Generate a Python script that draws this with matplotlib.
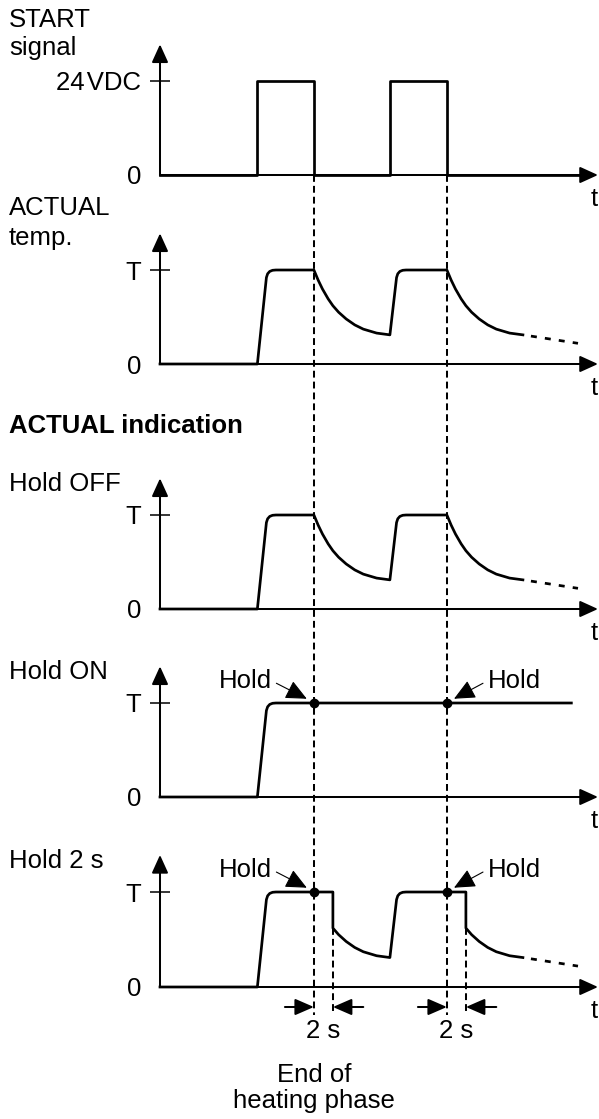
import matplotlib.pyplot as plt
from matplotlib.lines import Line2D
from matplotlib.transforms import blended_transform_factory

plt.rcParams['font.family'] = ['Liberation Sans', 'DejaVu Sans']
plt.rcParams['font.size'] = 18.5

## Heating cycles (s): START signal on / end of heating phase
heat_on = [10.25, 24.2]
heat_off = [16.2, 30.2]
hold_time = 2.0          # "Hold 2 s" mode
hold_on_end = 43.3       # where the held line stops in "Hold ON"

## Rising flank: time the knee is reached, then the rounded knee up to T
knee_t = [11.2, 24.9]
knee_dt = [0.0, 0.13, 0.35, 0.65, 1.0]
knee_v = [0.92, 0.96, 0.985, 0.997, 1.0]

## Cooling curve after the end of heating (offset in s, level as fraction of T)
cool_dt = [0.0, 0.45, 0.9, 1.5, 2.0, 2.6, 3.4, 4.3, 5.2, 6.6, 8.0]
cool_v = [1.0, 0.892, 0.798, 0.693, 0.62, 0.551, 0.479, 0.416, 0.371, 0.329, 0.31]

## Dotted continuation after the last cycle
tail_t = [38.2, 44.0]
tail_v = [0.31, 0.22]

panel_names = [["START", "signal"], ["ACTUAL", "temp."], ["Hold OFF"], ["Hold ON"], ["Hold 2 s"]]
top_labels = ["24\u200aVDC", "T", "T", "T", "T"]

## Layout in pixels
W, H = 599, 1119
axis_px = 160
px_per_s = 9.5
base_px = [175, 364, 609, 797, 987]
unit_px = [94, 94, 94, 94, 95]
name_px = [[27, 55], [215, 245], [491], [679], [868]]
y_lo, y_hi = -0.45, 1.5
arrow_top = 1.39

fig = plt.figure(figsize=(W / 100, H / 100), dpi=100)


def temp_trace(hold):
    t, v = [0.0, heat_on[0]], [0.0, 0.0]
    for i in range(len(heat_on)):
        t += [knee_t[i] + d for d in knee_dt]
        v += knee_v
        if hold == 'on':
            break
        if hold == '2s':
            t.append(heat_off[i] + hold_time)
            v.append(1.0)
            keep = [k for k, d in enumerate(cool_dt) if d >= hold_time]
        else:
            keep = list(range(len(cool_dt)))
        t += [heat_off[i] + cool_dt[k] for k in keep]
        v += [cool_v[k] for k in keep]
    if hold == 'on':
        t.append(hold_on_end)
        v.append(1.0)
    return t, v


axes = []
for i in range(5):
    u = unit_px[i]
    bottom = 1 - (base_px[i] - y_lo * u) / H
    height = (y_hi - y_lo) * u / H
    ax = fig.add_axes([axis_px / W, bottom, (W - axis_px) / W, height])
    ax.set_xlim(0, (W - axis_px) / px_per_s)
    ax.set_ylim(y_lo, y_hi)
    for s in ax.spines.values():
        s.set_visible(False)
    ax.set_xticks([])
    ax.set_yticks([0, 1])
    ax.set_yticklabels(['0', top_labels[i]])
    ax.tick_params(axis='y', direction='inout', length=15, width=1.1, pad=6.2)
    ax.yaxis.get_major_ticks()[0].tick1line.set_visible(False)
    ax.patch.set_visible(False)

    # axes with arrow heads
    arr = dict(arrowstyle='-|>,head_length=1.1,head_width=0.5', color='black',
               lw=1.45, shrinkA=0, shrinkB=0, mutation_scale=10)
    ax.annotate('', xy=(0, arrow_top), xytext=(0, 0), arrowprops=arr, annotation_clip=False)
    ax.annotate('', xy=(46.1, 0), xytext=(0, 0), arrowprops=arr, annotation_clip=False)
    ax.text(45.7, -31 / u, 't', ha='center', va='baseline')

    for name, y in zip(panel_names[i], name_px[i]):
        fig.text(9 / W, 1 - y / H, name, ha='left', va='baseline')
    axes.append(ax)

fig.text(9 / W, 1 - 433 / H, "ACTUAL indication", ha='left', va='baseline', fontweight='bold')

curve = dict(color='black', lw=1.95, solid_joinstyle='round', clip_on=False)
tail = dict(color='black', lw=1.95, linestyle=(2.2, (2.2, 3.0)), clip_on=False)

## START signal
sig_t = [0, heat_on[0], heat_on[0], heat_off[0], heat_off[0],
         heat_on[1], heat_on[1], heat_off[1], heat_off[1], 45.0]
sig_v = [0, 0, 1, 1, 0, 0, 1, 1, 0, 0]
axes[0].plot(sig_t, sig_v, **curve)

## ACTUAL temperature and Hold OFF indication
for ax in (axes[1], axes[2]):
    ax.plot(*temp_trace('off'), **curve)
    ax.plot(tail_t, tail_v, **tail)

## Hold ON
axes[3].plot(*temp_trace('on'), **curve)

## Hold 2 s
axes[4].plot(*temp_trace('2s'), **curve)
axes[4].plot(tail_t, tail_v, **tail)

## Hold markers and labels
thin = dict(arrowstyle='-|>,head_length=1.3,head_width=0.6', color='black',
            lw=0.8, shrinkA=0, shrinkB=0, mutation_scale=10)
for ax in (axes[3], axes[4]):
    ax.plot(heat_off, [1, 1], 'o', color='black', ms=6, clip_on=False, zorder=5)
    ax.text(9.0, 1.16, 'Hold', ha='center', va='baseline')
    ax.text(37.3, 1.16, 'Hold', ha='center', va='baseline')
    ax.annotate('', xy=(heat_off[0] - 0.75, 1.045), xytext=(12.25, 1.21),
                arrowprops=thin, annotation_clip=False)
    ax.annotate('', xy=(heat_off[1] + 0.75, 1.045), xytext=(34.0, 1.21),
                arrowprops=thin, annotation_clip=False)

## Dashed markers for end of heating phase across all panels
mix = blended_transform_factory(axes[0].transData, fig.transFigure)
dash_bottom = 1 - 1015 / H
for x in heat_off:
    fig.add_artist(Line2D([x, x], [1 - base_px[0] / H, dash_bottom], transform=mix,
                          color='black', lw=1.45, linestyle=(0, (3.4, 2.0))))

ax5 = axes[4]
level_at_hold = cool_v[cool_dt.index(hold_time)]
for x in heat_off:
    ax5.plot([x + hold_time] * 2, [level_at_hold, -28 / unit_px[4]], color='black',
             lw=1.45, linestyle=(0, (3.4, 2.0)), clip_on=False)

## 2 s dimension arrows
dim = dict(arrowstyle='-|>,head_length=1.15,head_width=0.5', color='black',
           lw=1.45, shrinkA=0, shrinkB=0, mutation_scale=10)
y_dim = -20 / unit_px[4]
for x in heat_off:
    ax5.annotate('', xy=(x, y_dim), xytext=(x - 3.05, y_dim), arrowprops=dim, annotation_clip=False)
    ax5.annotate('', xy=(x + hold_time, y_dim), xytext=(x + hold_time + 3.2, y_dim),
                 arrowprops=dim, annotation_clip=False)
    ax5.text(x + hold_time / 2, -51 / unit_px[4], '2 s', ha='center', va='baseline')

ax5.text(heat_off[0], -95 / unit_px[4], 'End of', ha='center', va='baseline')
ax5.text(heat_off[0], -121 / unit_px[4], 'heating phase', ha='center', va='baseline')

plt.savefig('out.png', dpi=100)
